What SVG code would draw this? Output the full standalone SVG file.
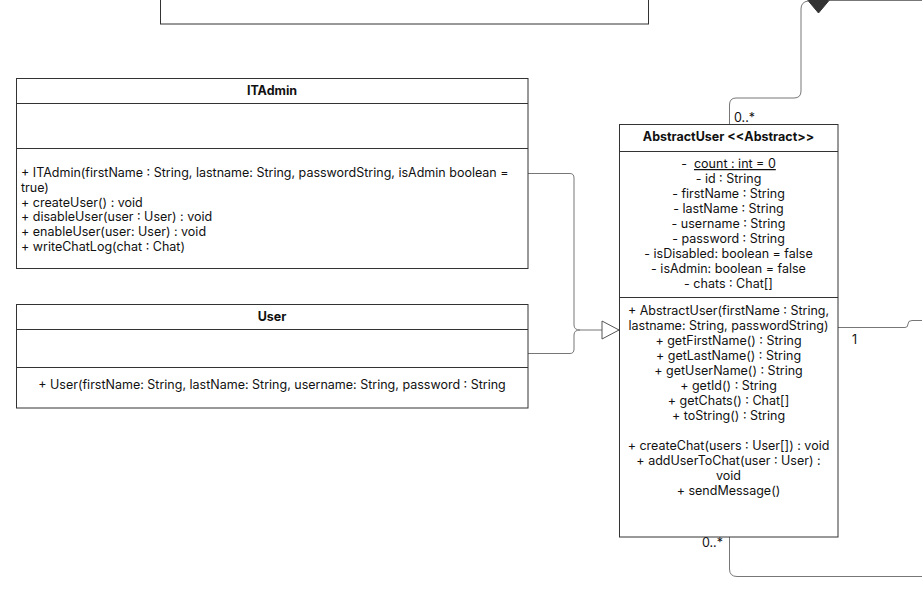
<svg xmlns="http://www.w3.org/2000/svg" width="922" height="598" viewBox="0 0 922 598">
  <style>
    text { font-family: Inter, "Liberation Sans", sans-serif; font-size: 12.5px; fill: #111; }
    .title { font-weight: bold; text-anchor: middle; }
    .mid { text-anchor: middle; }
    .box { fill: #fff; stroke: #333; stroke-width: 1; }
    .sep { stroke: #333; stroke-width: 1; }
    .wire { fill: none; stroke: #777; stroke-width: 1; }
  </style>
  <defs>
    <marker id="inherit" viewBox="0 0 20 20" refX="18" refY="10" markerWidth="20" markerHeight="20" markerUnits="userSpaceOnUse" orient="auto">
      <path d="M1,1 L18,10 L1,19 Z" fill="#fff" stroke="#555" stroke-width="1"/>
    </marker>
  </defs>
  <rect width="922" height="598" fill="#fff"/>

  <!-- class partly above the visible area -->
  <g id="topClass">
    <rect class="box" x="160.5" y="-10" width="488" height="34"/>
  </g>

  <!-- connectors -->
  <g id="connectors">
    <!-- generalisation: ITAdmin and User to AbstractUser -->
    <path class="wire" d="M528,173.5 H570 Q574,173.5 574,178 V325 Q574,330 580,330 H619" marker-end="url(#inherit)"/>
    <path class="wire" d="M528,353.5 H570 Q574,353.5 574,349 V335 Q574,330 580,330"/>
    <!-- composition from the upper class -->
    <path class="wire" d="M922,0.5 H829"/>
    <path class="wire" d="M808,1 Q801,2 801,9 V91 Q801,98 794,98 H736 Q729.5,98 729.5,105 V124"/>
    <path d="M808,0.5 L818.5,-12 L829,0.5 L818.5,13 Z" fill="#333" stroke="#333" stroke-width="1"/>
    <!-- association on the right -->
    <path class="wire" d="M838,327.5 H905 Q908,327.5 908,324 Q908,320.5 912,320.5 H922"/>
    <!-- association below -->
    <path class="wire" d="M729.5,537 V569 Q729.5,576.5 737,576.5 H922"/>
    <text x="734" y="122">0..*</text>
    <text x="852" y="344">1</text>
    <text x="723" y="547" text-anchor="end">0..*</text>
  </g>

  <g id="ITAdmin">
    <rect class="box" x="16.5" y="78.5" width="511.5" height="190"/>
    <line class="sep" x1="16.5" y1="103.5" x2="528" y2="103.5"/>
    <line class="sep" x1="16.5" y1="148.5" x2="528" y2="148.5"/>
    <text class="title" x="272" y="95">ITAdmin</text>
    <text x="21" y="177">+ ITAdmin(firstName : String, lastname: String, passwordString, isAdmin boolean =</text>
    <text x="21" y="191.8">true)</text>
    <text x="21" y="206.6">+ createUser() : void</text>
    <text x="21" y="221.4">+ disableUser(user : User) : void</text>
    <text x="21" y="236.2">+ enableUser(user: User) : void</text>
    <text x="21" y="251">+ writeChatLog(chat : Chat)</text>
  </g>

  <g id="User">
    <rect class="box" x="16.5" y="304.5" width="511.5" height="103.5"/>
    <line class="sep" x1="16.5" y1="329.5" x2="528" y2="329.5"/>
    <line class="sep" x1="16.5" y1="367.5" x2="528" y2="367.5"/>
    <text class="title" x="272" y="321">User</text>
    <text class="mid" x="272" y="389">+ User(firstName: String, lastName: String, username: String, password : String</text>
  </g>

  <g id="AbstractUser">
    <rect class="box" x="619.5" y="124.5" width="218.5" height="412.5"/>
    <line class="sep" x1="619.5" y1="151.5" x2="838" y2="151.5"/>
    <line class="sep" x1="619.5" y1="297.5" x2="838" y2="297.5"/>
    <text class="title" x="728.5" y="141">AbstractUser &lt;&lt;Abstract&gt;&gt;</text>
    <text class="mid" x="728.5" y="168" xml:space="preserve">-  <tspan text-decoration="underline">count : int = 0</tspan></text>
    <text class="mid" x="728.5" y="183">- id : String</text>
    <text class="mid" x="728.5" y="198">- firstName : String</text>
    <text class="mid" x="728.5" y="213">- lastName : String</text>
    <text class="mid" x="728.5" y="228">- username : String</text>
    <text class="mid" x="728.5" y="243">- password : String</text>
    <text class="mid" x="728.5" y="258">- isDisabled: boolean = false</text>
    <text class="mid" x="728.5" y="273">- isAdmin: boolean = false</text>
    <text class="mid" x="728.5" y="288">- chats : Chat[]</text>
    <text class="mid" x="728.5" y="315">+ AbstractUser(firstName : String,</text>
    <text class="mid" x="728.5" y="330">lastname: String, passwordString)</text>
    <text class="mid" x="728.5" y="345">+ getFirstName() : String</text>
    <text class="mid" x="728.5" y="360">+ getLastName() : String</text>
    <text class="mid" x="728.5" y="375">+ getUserName() : String</text>
    <text class="mid" x="728.5" y="390">+ getId() : String</text>
    <text class="mid" x="728.5" y="405">+ getChats() : Chat[]</text>
    <text class="mid" x="728.5" y="420">+ toString() : String</text>
    <text class="mid" x="728.5" y="450">+ createChat(users : User[]) : void</text>
    <text class="mid" x="728.5" y="465">+ addUserToChat(user : User) :</text>
    <text class="mid" x="728.5" y="480">void</text>
    <text class="mid" x="728.5" y="495">+ sendMessage()</text>
  </g>
</svg>
